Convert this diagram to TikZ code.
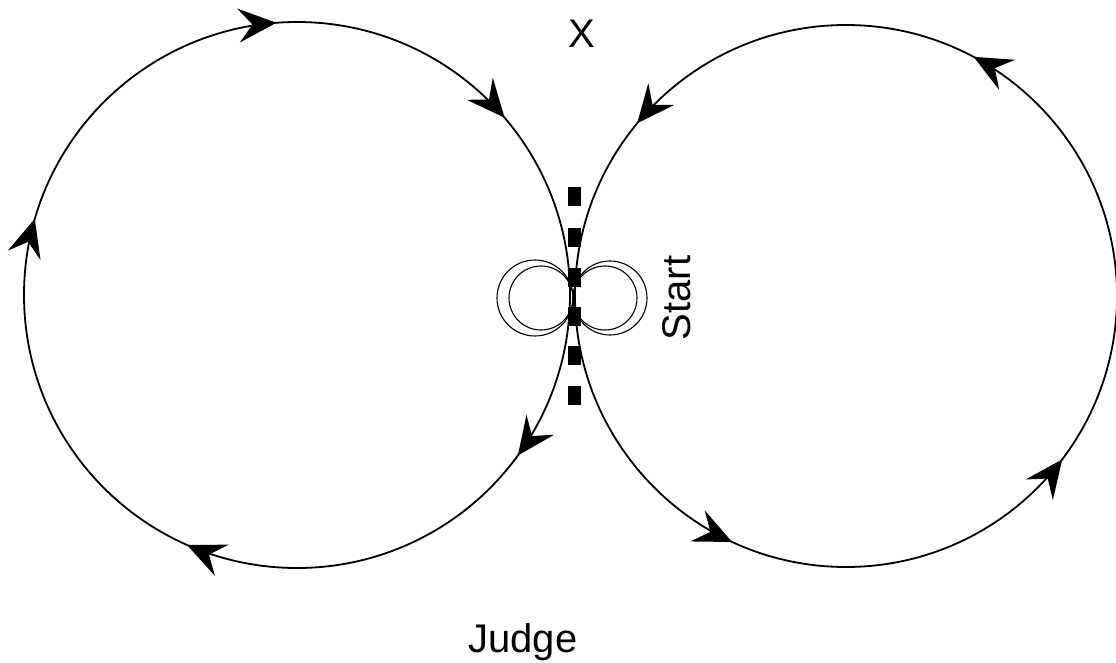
\documentclass[tikz,border=0pt]{standalone}
\usepackage{fontspec}
\setmainfont{Liberation Sans}
\usetikzlibrary{arrows.meta, decorations.markings}

\tikzset{
  track/.style={line width=1.8pt},
  loopline/.style={line width=1.1pt},
  gate/.style={fill=black, minimum width=13pt, minimum height=19pt, inner sep=0pt},
  sign/.style={font=\fontsize{40}{40}\selectfont, inner sep=0pt},
  tip at/.style={postaction={decorate, decoration={markings, mark=at position #1 with {\arrow{>}}}}}
}

\begin{document}
\begin{tikzpicture}[x=1pt, y=1pt, >={Stealth[length=38pt, width=34pt, inset=14pt]}]
  \useasboundingbox (0,0) rectangle (1116,-663);
  \coordinate (lc) at (297,-295);
  \coordinate (rc) at (846,-296);
  \draw[track, tip at=0.1, tip at=0.316, tip at=0.545, tip at=0.738, tip at=0.8875]
    (lc) ++(0:273) arc[start angle=0, end angle=-360, radius=273];
  \draw[track, tip at=0.172, tip at=0.39, tip at=0.681, tip at=0.897]
    (rc) ++(0:271) arc[start angle=0, end angle=360, radius=271];
  \draw[loopline] (535,-298) circle[radius=38];
  \draw[loopline] (541,-298) circle[radius=32];
  \draw[loopline] (610,-298) circle[radius=37];
  \draw[loopline] (605,-298) circle[radius=32];
  \foreach \i/\y in {1/197, 2/237, 3/277, 4/316, 5/355, 6/395}
    \node[gate] (gate\i) at (574,-\y) {};
  \node[sign, anchor=base] (xmark) at (582,-48) {X};
  \node[sign, anchor=base, rotate=90] (start) at (690,-298) {Start};
  \node[sign, anchor=base] (judge) at (523,-652) {Judge};
\end{tikzpicture}
\end{document}
